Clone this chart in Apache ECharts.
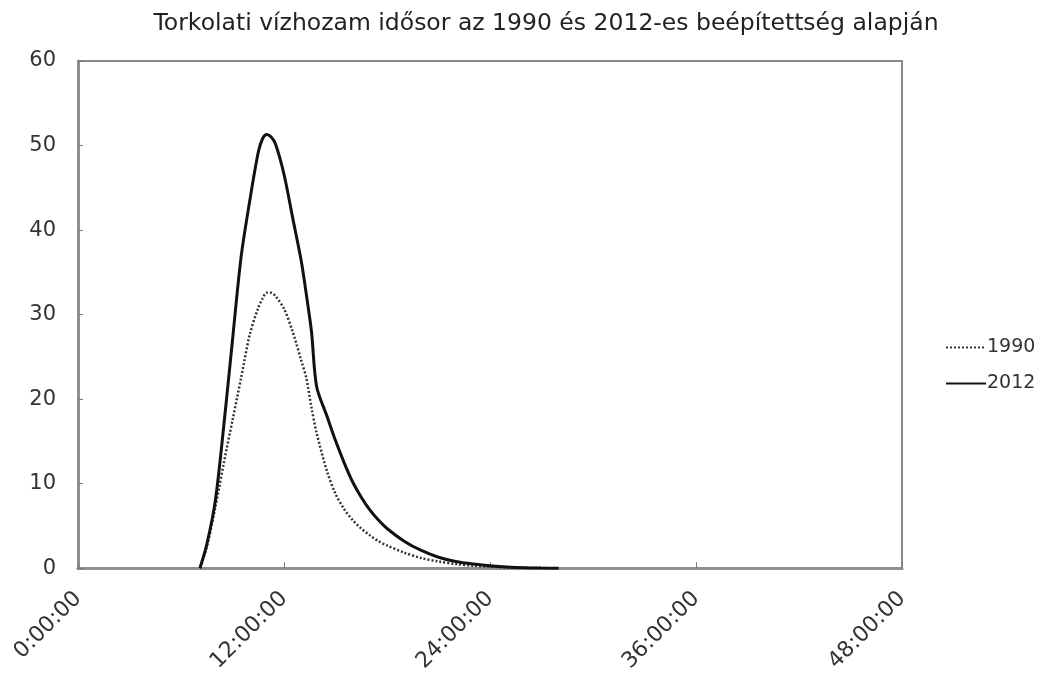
<!DOCTYPE html>
<html><head><meta charset="utf-8">
<script src="https://cdn.jsdelivr.net/npm/echarts@6/dist/echarts.min.js"></script>
<style>html,body{margin:0;padding:0;background:#fff}#c{width:1048px;height:675px}</style>
</head><body><div id="c"></div>
<script>
const titleText = "Torkolati vízhozam idősor az 1990 és 2012-es beépítettség alapján";
const seriesNames = ["1990", "2012"];
const hours = [7.1, 7.5, 8, 8.5, 9, 9.5, 10, 10.5, 10.75, 11, 11.25, 11.5, 12, 12.5, 13, 13.3, 13.6, 13.9, 14.5, 15, 15.5, 16, 16.5, 17, 17.5, 18, 19, 20, 21, 22, 23, 24, 25, 26, 27, 28];
const q1990 = [0, 2.5, 7.2, 12.5, 17.5, 22.5, 27.6, 30.8, 31.9, 32.6, 32.6, 32.2, 30.7, 28, 24.6, 22.5, 19, 16, 11.5, 8.8, 7.0, 5.7, 4.7, 3.9, 3.2, 2.7, 1.85, 1.2, 0.8, 0.5, 0.3, 0.2, 0.1, 0.05, 0.02, 0];
const q2012 = [0, 2.8, 8, 17, 27, 36.8, 43.4, 49.2, 50.8, 51.3, 51.0, 50.2, 46.6, 41.5, 36.4, 32.4, 28, 21.5, 18, 15.1, 12.5, 10.2, 8.4, 6.9, 5.7, 4.7, 3.2, 2.1, 1.3, 0.8, 0.5, 0.3, 0.15, 0.06, 0.02, 0];
const xTicks = [0, 12, 24, 36, 48];
const yTicks = [0, 10, 20, 30, 40, 50, 60];

const FONT = 'DejaVu Sans';
const pair = arr => hours.map((h, i) => [h, arr[i]]);
const chart = echarts.init(document.getElementById('c'));
chart.setOption({
  animation: false,
  title: {
    text: titleText, left: 541, top: 7, textAlign: 'center',
    textStyle: { fontFamily: FONT, fontWeight: 'normal', fontSize: 23.5, color: '#222' }
  },
  legend: {
    orient: 'vertical', left: 940, top: 333, itemGap: 17, itemWidth: 40, itemHeight: 12,
    itemStyle: { opacity: 0 },
    textStyle: { fontFamily: FONT, fontSize: 19, color: '#333', padding: [0, 0, 0, -4] },
    data: seriesNames
  },
  grid: {
    left: 78, right: 146, top: 61, bottom: 105, show: true,
    borderColor: '#8a8a8a', borderWidth: 2
  },
  xAxis: {
    type: 'value', min: xTicks[0], max: xTicks[xTicks.length - 1], interval: 12,
    axisLine: { lineStyle: { color: '#8f8f8f', width: 3 } },
    axisTick: { inside: true, length: 6, lineStyle: { color: '#777' } },
    splitLine: { show: false },
    axisLabel: {
      rotate: 45, margin: 27, fontFamily: FONT, fontSize: 22, color: '#333',
      formatter: v => v + ':00:00'
    }
  },
  yAxis: {
    type: 'value', min: yTicks[0], max: yTicks[yTicks.length - 1], interval: 10,
    axisLine: { show: true, lineStyle: { color: '#8f8f8f', width: 3 } },
    axisTick: { show: true, inside: true, length: 5, lineStyle: { color: '#777' } },
    splitLine: { show: false },
    axisLabel: { margin: 22, fontFamily: FONT, fontSize: 21, color: '#333' }
  },
  series: [
    {
      name: seriesNames[0], type: 'line', data: pair(q1990), smooth: 0.3,
      symbol: 'none', itemStyle: { color: '#333' },
      lineStyle: { color: '#333', width: 2.5, type: [2, 2] }
    },
    {
      name: seriesNames[1], type: 'line', data: pair(q2012), smooth: 0.3,
      symbol: 'none', itemStyle: { color: '#111' },
      lineStyle: { color: '#111', width: 3, type: 'solid' }
    }
  ]
});
</script></body></html>
